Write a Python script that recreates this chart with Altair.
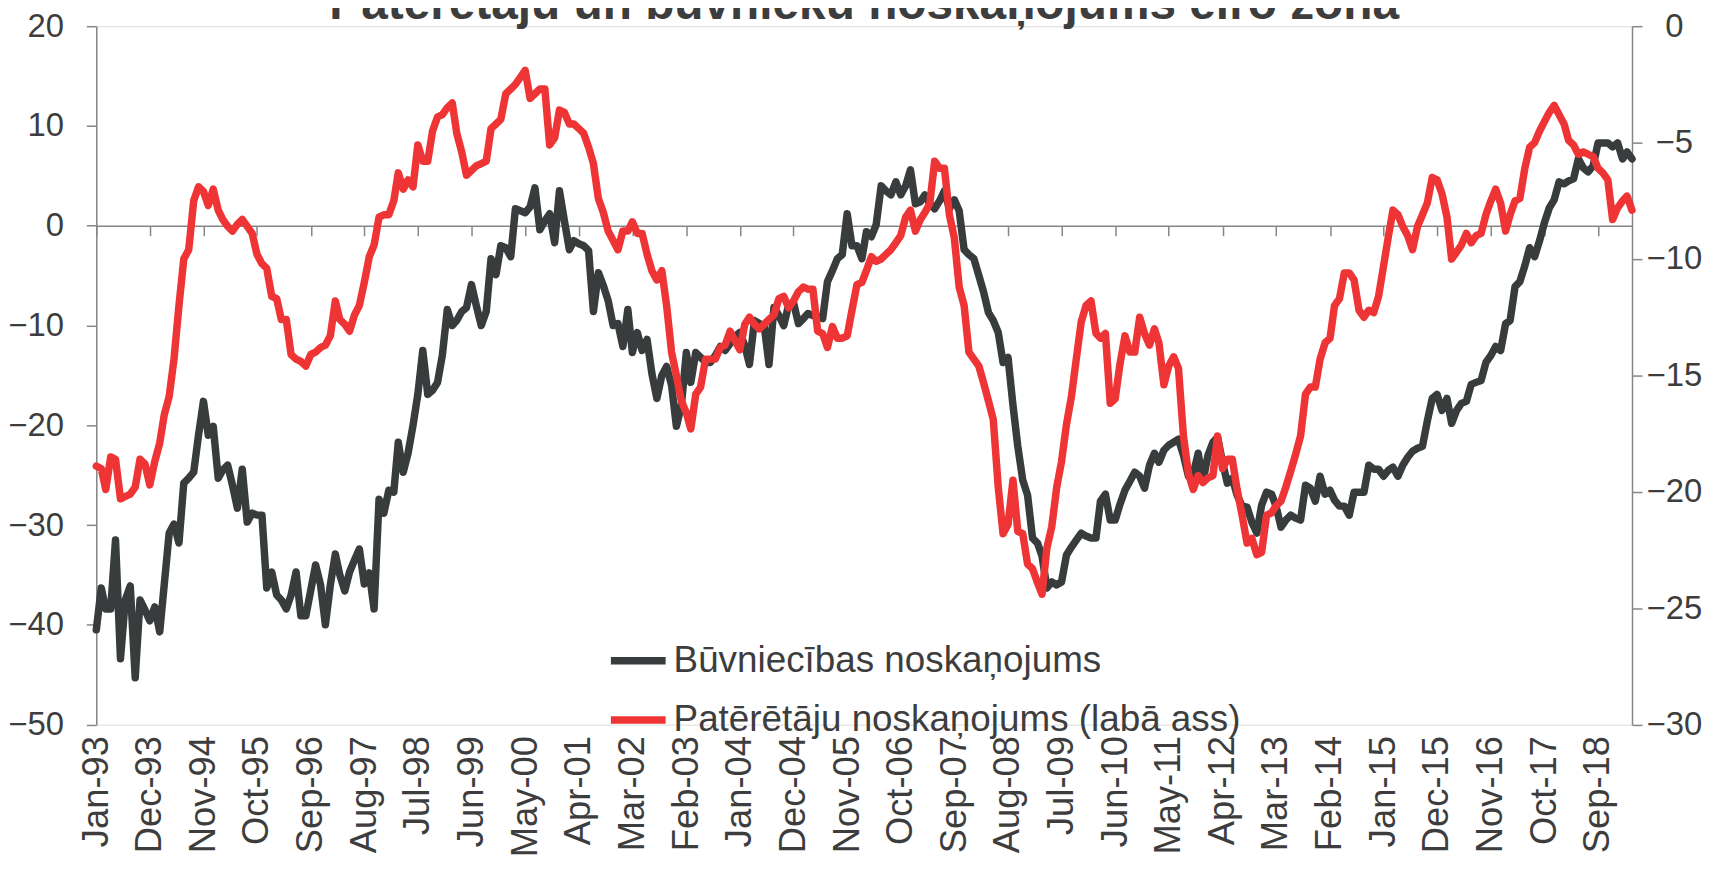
import altair as alt
import pandas as pd

TITLE = "Patērētāju un būvnieku noskaņojums eiro zonā"
SERIES_BUILD = "Būvniecības noskaņojums"
SERIES_CONS = "Patērētāju noskaņojums (labā ass)"

# Monthly values, Jan-1993 .. Apr-2019 (one row per year)
BUILD = [
    -40.5, -36.3, -38.4, -38.4, -31.5, -43.4, -37.5, -36.1, -45.3, -37.5, -38.5, -39.6,
    -38.2, -40.7, -36, -30.8, -29.9, -31.8, -25.8, -25.3, -24.7, -21, -17.6, -21,
    -20.1, -25.3, -24.5, -24, -26, -28.3, -24.4, -29.7, -28.8, -29, -29, -36.3,
    -34.7, -37, -37.5, -38.4, -37, -34.7, -39.1, -39.1, -36.5, -34, -36, -40,
    -36, -32.9, -35, -36.6, -34.7, -33.5, -32.4, -35.9, -34.8, -38.4, -27.4, -28.8,
    -26.5, -26.7, -21.7, -24.7, -22.8, -20, -16.9, -12.5, -16.9, -16.5, -15.7, -13,
    -8.4, -10, -9.5, -8.6, -8.2, -5.9, -8, -10, -8.6, -3.3, -4.9, -2,
    -2.2, -3.1, 1.7, 1.5, 1.3, 1.9, 3.8, -0.4, 0.5, 1.2, -1.7, 3.5,
    0.5, -2.4, -1.5, -1.8, -2, -2.5, -8.6, -4.7, -6, -7.5, -10, -9.8,
    -12.1, -8.4, -12.7, -10.7, -12.5, -11.4, -14.8, -17.3, -15, -14.1, -16, -20.1,
    -18, -12.7, -15.7, -12.7, -13.2, -13.7, -13.7, -13, -12.1, -12.5, -11.8, -11.1,
    -10.7, -12, -13.9, -9.5, -9.8, -10, -13.9, -8.2, -9, -10, -7.9, -7.7,
    -9.8, -9.3, -8.8, -9, -9.1, -9.3, -5.6, -4.5, -3.3, -2.9, 1.2, -2,
    -2, -3.3, -0.6, -1.1, 0.1, 4, 3.5, 3.1, 4.4, 3.1, 4, 5.6,
    2.2, 2.4, 3.1, 2.2, 1.7, 2.5, 3.5, 1.7, 2.6, 1.5, -2.4, -2.9,
    -3.3, -5, -6.6, -8.7, -9.5, -10.7, -13.7, -13.2, -18, -22.1, -25.5, -27,
    -31.3, -31.8, -33.1, -36.3, -35.7, -36, -35.7, -33, -32.2, -31.5, -30.8, -31.1,
    -31.3, -31.3, -27.6, -26.9, -29.5, -29.5, -27.9, -26.5, -25.6, -24.7, -25.1, -26.3,
    -24, -22.8, -23.7, -22.5, -22, -21.7, -21.4, -23, -25.1, -24.9, -22.8, -25.6,
    -23, -21.7, -21.2, -23.7, -25.8, -25.3, -27, -28.1, -28.2, -29.7, -30.8, -28,
    -26.7, -26.9, -28.1, -30.2, -29.5, -29, -29.3, -29.5, -26, -26.3, -27.6, -25.1,
    -26.9, -26.5, -27.5, -28.1, -28.1, -29, -26.7, -26.7, -26.7, -24, -24.4, -24.4,
    -25.1, -24.5, -24.2, -25.1, -24, -23.2, -22.6, -22.3, -22.1, -19.6, -17.3, -16.9,
    -18.5, -17.3, -19.8, -18.5, -17.8, -17.6, -15.9, -15.7, -15.5, -13.7, -13, -12.1,
    -12.5, -9.8, -9.5, -6.1, -5.6, -4, -2.2, -3.1, -1.5, 0.3, 1.8, 2.6,
    4.4, 4.2, 4.5, 4.7, 6.7, 5.8, 5.4, 6, 8.3, 8.3, 8.3, 7.9,
    8.3, 6.7, 7.4, 6.7,
]

CONS = [
    -18.9, -19, -19.9, -18.5, -18.6, -20.3, -20.2, -20.1, -19.8, -18.6, -18.8, -19.7,
    -18.7, -17.9, -16.7, -15.9, -14.3, -12, -10, -9.6, -7.5, -6.9, -7.1, -7.7,
    -7, -7.9, -8.3, -8.6, -8.8, -8.5, -8.3, -8.6, -8.9, -9.8, -10.2, -10.4,
    -11.6, -11.7, -12.6, -12.6, -14.1, -14.3, -14.4, -14.6, -14.1, -14, -13.8, -13.7,
    -13.3, -11.8, -12.6, -12.8, -13.1, -12.4, -12, -11, -9.9, -9.4, -8.2, -8.1,
    -8.1, -7.5, -6.3, -7, -6.6, -6.9, -5.1, -5.8, -5.8, -4.5, -3.9, -3.8,
    -3.5, -3.3, -4.6, -5.4, -6.4, -6.2, -6, -5.9, -5.8, -4.4, -4.2, -4,
    -2.9, -2.7, -2.5, -2.2, -1.9, -3.1, -2.9, -2.7, -2.7, -5.1, -4.8, -3.6,
    -3.7, -4.2, -4.2, -4.4, -4.6, -5.2, -5.9, -7.4, -8, -8.8, -9.2, -9.6,
    -8.8, -8.8, -8.4, -8.9, -8.9, -9.8, -10.5, -10.9, -10.5, -12, -14, -15,
    -16.1, -16.6, -17.3, -15.8, -15.5, -14.3, -14.3, -14.3, -13.8, -13.7, -13.1, -13.5,
    -13.9, -12.8, -12.5, -12.8, -13, -12.8, -12.6, -12.4, -11.7, -11.6, -12.1, -11.8,
    -11.4, -11.2, -11.3, -11.3, -13.1, -13.2, -13.8, -12.9, -13.4, -13.4, -13.3, -12.2,
    -11.1, -11, -10.5, -9.9, -10.1, -10, -9.8, -9.6, -9.3, -9, -8.2, -7.9,
    -8.8, -8.3, -8, -7.6, -5.8, -6.1, -6.1, -8.1, -9.1, -11.2, -12, -14,
    -14.3, -14.6, -15.3, -16.1, -16.9, -19.8, -21.8, -21.4, -19.5, -21.7, -21.8, -23.1,
    -23.3, -23.9, -24.4, -22.4, -21.5, -19.8, -18.7, -17.1, -15.9, -14.3, -12.7, -12,
    -11.8, -13.2, -13.4, -13.2, -16.2, -16, -14.5, -13.3, -14, -14, -12.5, -13.2,
    -13.7, -13, -13.6, -15.4, -14.6, -14.2, -14.7, -17.6, -19.2, -19.9, -19.3, -19.6,
    -19.4, -19.3, -17.6, -19, -18.6, -18.6, -19.9, -21, -22.2, -22, -22.7, -22.6,
    -21, -20.9, -20.6, -20.4, -19.8, -19.1, -18.4, -17.6, -15.8, -15.5, -15.5, -14.3,
    -13.6, -13.4, -12, -11.7, -10.6, -10.6, -10.9, -12.2, -12.5, -12.2, -12.3, -11.6,
    -10.3, -9, -7.9, -8.1, -8.6, -9, -9.6, -8.6, -8.1, -7.6, -6.5, -6.6,
    -7.2, -8.2, -10, -9.7, -9.4, -8.9, -9.3, -9, -8.9, -8.1, -7.5, -7,
    -7.6, -8.8, -8.1, -7.5, -7.4, -6.1, -5.2, -5, -4.5, -4.1, -3.7, -3.4,
    -3.8, -4.2, -4.9, -5.1, -5.5, -5.4, -5.5, -5.6, -6.1, -6.3, -6.6, -8.3,
    -7.8, -7.5, -7.3, -7.9,
]

LEFT_TICKS = [-50, -40, -30, -20, -10, 0, 10, 20]
RIGHT_TICKS = [-30, -25, -20, -15, -10, -5, 0]

dates = pd.date_range("1993-01-01", periods=len(BUILD), freq="MS")
date_str = [d.strftime("%Y-%m-%dT00:00:00") for d in dates]
tick_dates = [dates[i] for i in range(0, len(dates), 11)]
TICK_VALUES = [alt.DateTime(year=d.year, month=d.month, date=1) for d in tick_dates]

df = pd.DataFrame({
    "date": date_str * 2,
    "value": BUILD + CONS,
    "series": [SERIES_BUILD] * len(BUILD) + [SERIES_CONS] * len(CONS),
})

FONT = "Liberation Sans"
GRAY = "#868686"
TEXT = "#3d3d3d"
DARK = "#383c3d"
RED = "#ee3434"

W, H = 1542.9, 701.7

x_scale = alt.Scale(domain=[alt.DateTime(year=1993, month=1, date=1),
                            alt.DateTime(year=2019, month=4, date=1)], nice=False)
color = alt.Color(
    "series:N",
    scale=alt.Scale(domain=[SERIES_BUILD, SERIES_CONS], range=[DARK, RED]),
    legend=alt.Legend(
        title=None, orient="none", legendX=513, legendY=606,
        symbolType="stroke", symbolSize=3025, symbolStrokeWidth=7.5,
        labelFontSize=37, labelFont=FONT, labelColor=TEXT, labelOffset=4,
        rowPadding=9.5, padding=0, labelLimit=800,
    ),
)

base = alt.Chart(df)

build_line = base.transform_filter(alt.datum.series == SERIES_BUILD).mark_line(
    strokeWidth=7.5, strokeCap="round", strokeJoin="round"
).encode(
    x=alt.X("date:T", scale=x_scale, axis=alt.Axis(
        orient="bottom", values=TICK_VALUES, format="%b-%y", labelAngle=270,
        labelFontSize=36.5, labelFont=FONT, labelColor=TEXT, domain=False,
        ticks=False, labelPadding=11, title=None, grid=False, labelOverlap=False,
    )),
    y=alt.Y("value:Q", scale=alt.Scale(domain=[-50, 20], nice=False, zero=False),
            axis=alt.Axis(orient="left", values=LEFT_TICKS, title=None, grid=False,
                          tickSize=10, tickColor=GRAY, domainColor=GRAY,
                          domainWidth=1.5, tickWidth=1.5,
                          labelFontSize=33, labelFont=FONT, labelColor=TEXT,
                          labelPadding=23)),
    color=color,
)

cons_line = base.transform_filter(alt.datum.series == SERIES_CONS).mark_line(
    strokeWidth=7.5, strokeCap="round", strokeJoin="round"
).encode(
    x=alt.X("date:T", scale=x_scale, axis=alt.Axis(
        orient="bottom", values=TICK_VALUES, labels=False, domain=True, ticks=True,
        tickSize=10, tickColor=GRAY, domainColor=GRAY, domainWidth=1.5,
        tickWidth=1.5, offset=-(H * 5 / 7), title=None, grid=False,
    )),
    y=alt.Y("value:Q", scale=alt.Scale(domain=[-30, 0], nice=False, zero=False),
            axis=alt.Axis(orient="right", values=RIGHT_TICKS, title=None, grid=False,
                          tickSize=10, tickColor=GRAY, domainColor=GRAY,
                          domainWidth=1.5, tickWidth=1.5,
                          labelFontSize=33, labelFont=FONT, labelColor=TEXT,
                          labelAlign="center", labelPadding=32)),
    color=color,
)

chart = alt.layer(build_line, cons_line).resolve_scale(
    y="independent"
).resolve_axis(
    x="independent", y="independent"
).properties(
    width=W, height=H,
    autosize=alt.AutoSizeParams(type="none"),
    padding={"left": 88.7, "top": 16.3, "right": 89.4, "bottom": 134},
    title=alt.TitleParams(TITLE, font=FONT, fontSize=48, fontWeight="bold",
                          color=TEXT, anchor="middle", frame="group",
                          baseline="alphabetic", offset=-57),
).configure_view(stroke=None).configure(background="white")

chart.save("out.html", embed_options={"renderer": "svg", "actions": False})
